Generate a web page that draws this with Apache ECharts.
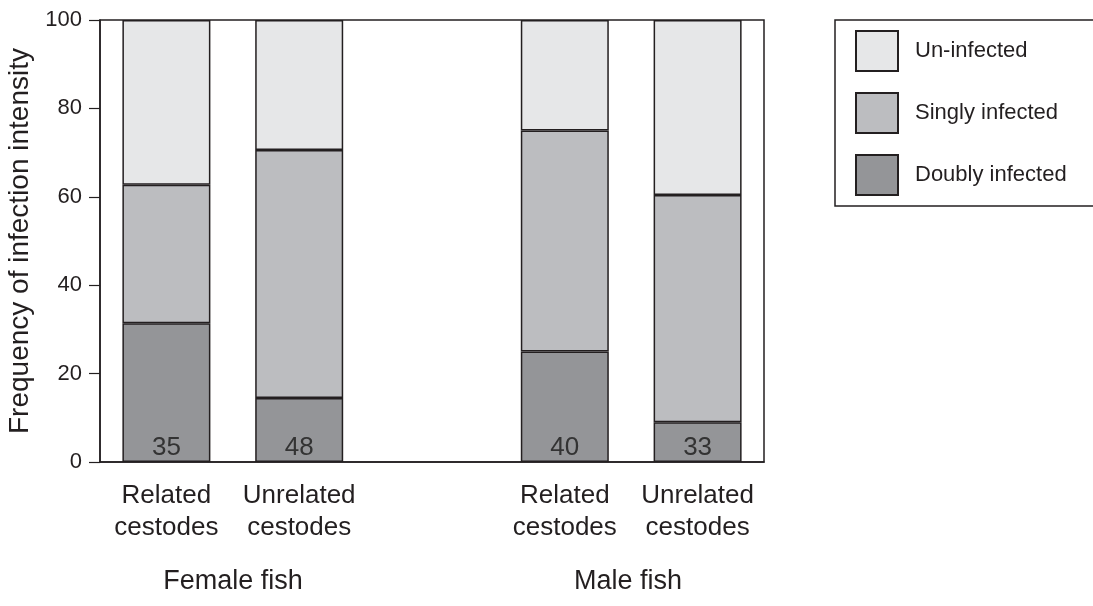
<!DOCTYPE html>
<html><head><meta charset="utf-8">
<script src="https://cdn.jsdelivr.net/npm/echarts@6/dist/echarts.min.js"></script>
<style>html,body{margin:0;padding:0;background:#fff}#c{width:1093px;height:606px}</style>
</head><body><div id="c"></div>
<script>
const categories = ['Related\ncestodes', 'Unrelated\ncestodes', '', 'Related\ncestodes', 'Unrelated\ncestodes'];
const doubly = [31.4, 14.5, null, 25, 9];
const singly = [31.3, 56.1, null, 50, 51.4];
const uninfected = [37.3, 29.4, null, 25, 39.6];
const sampleSizes = ['35', '48', '', '40', '33'];
const groupLabels = ['Female fish', 'Male fish'];
const yTicks = [0, 20, 40, 60, 80, 100];

const ink = '#231f20';
const font = 'Liberation Sans, Arial, Helvetica, sans-serif';
const chart = echarts.init(document.getElementById('c'));
function ser(name, data, color, label) {
  const s = {
    name, type: 'bar', stack: 'a', data, barWidth: 88,
    itemStyle: { color, borderColor: ink, borderWidth: 1.5 },
    emphasis: { disabled: true }
  };
  if (label) s.label = {
    show: true, position: 'insideBottom', distance: 1, fontSize: 26, color: '#333',
    fontFamily: font, formatter: p => sampleSizes[p.dataIndex]
  };
  return s;
}
chart.setOption({
  animation: false,
  textStyle: { fontFamily: font, color: ink },
  grid: { left: 100, right: 329, top: 20, bottom: 144, outerBoundsMode: 'none', containLabel: false,
    show: true, borderColor: ink, borderWidth: 1.5, backgroundColor: 'transparent' },
  legend: {
    orient: 'vertical', left: 835, top: 20,
    data: ['Un-infected', 'Singly infected', 'Doubly infected'],
    itemWidth: 42, itemHeight: 40, itemGap: 20,
    padding: [10, 60, 10, 20],
    borderColor: ink, borderWidth: 1.5,
    textStyle: { fontSize: 22, color: ink, fontFamily: font, padding: [0, 0, 0, 12] },
    icon: 'rect', selectedMode: false
  },
  xAxis: {
    type: 'category', data: categories,
    axisLine: { lineStyle: { color: ink, width: 1.5 } },
    axisTick: { show: false },
    axisLabel: { fontSize: 26, color: ink, lineHeight: 32, margin: 18, fontFamily: font, interval: 0 }
  },
  yAxis: {
    type: 'value', min: yTicks[0], max: yTicks[yTicks.length - 1], interval: 20,
    name: 'Frequency of infection intensity', nameLocation: 'middle', nameGap: 59,
    nameTextStyle: { fontSize: 28, color: ink, fontFamily: font },
    axisLine: { show: true, lineStyle: { color: ink, width: 1.5 } },
    axisTick: { show: true, length: 11, lineStyle: { color: ink, width: 1.2 } },
    axisLabel: { fontSize: 22, color: ink, margin: 18, fontFamily: font },
    splitLine: { show: false }
  },
  graphic: [
    { type: 'text', x: 233, y: 568, style: { text: groupLabels[0], fontSize: 27, fill: ink, fontFamily: font, align: 'center' } },
    { type: 'text', x: 628, y: 568, style: { text: groupLabels[1], fontSize: 27, fill: ink, fontFamily: font, align: 'center' } }
  ],
  series: [
    ser('Doubly infected', doubly, '#949598', true),
    ser('Singly infected', singly, '#bcbdc0'),
    ser('Un-infected', uninfected, '#e6e7e8')
  ]
});
</script></body></html>
